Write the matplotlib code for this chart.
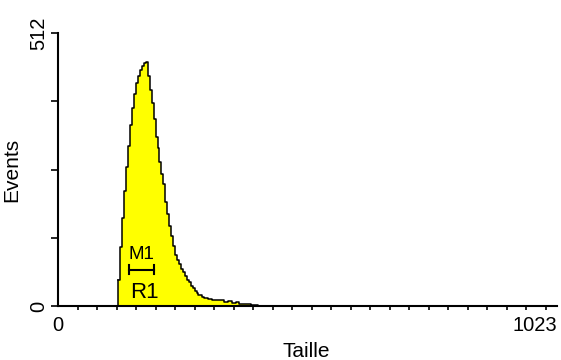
import numpy as np
import matplotlib
matplotlib.use("Agg")
import matplotlib.pyplot as plt

plt.rcParams['font.family'] = ['Liberation Sans', 'DejaVu Sans']

# histogram (channel, events)
channels = [124, 128, 132, 136, 140, 144, 148, 152, 156, 160, 164, 168, 172, 176, 180,
            184, 188, 192, 196, 200, 204, 208, 212, 216, 220, 224, 228, 232, 236, 240,
            244, 248, 252, 256, 260, 264, 268, 272, 276, 280, 284, 288, 292, 296, 300,
            308, 316, 324, 332, 340, 348, 356, 364, 372, 380, 388, 396, 404, 410]
events = [48, 110, 165, 215, 260, 300, 340, 372, 398, 418, 432, 442, 450, 455, 458,
          432, 405, 380, 350, 318, 296, 270, 248, 228, 196, 172, 150, 132, 112, 95,
          86, 78, 70, 64, 56, 48, 45, 38, 34, 28, 24, 20, 20, 17, 15,
          14, 12, 11, 12, 8, 9, 6, 7, 4, 4, 3, 2, 2, 0]

x_max = 1023
y_max = 512
y_ticks = [0, 128, 256, 384, 512]

fig = plt.figure(figsize=(5.61, 3.6), dpi=100)
ax = fig.add_axes([0.1034, 0.15, 0.8895, 0.758])

ax.fill_between(channels, events, step='post', color='#ffff00', lw=0)
ax.step(channels, events, where='post', color='black', lw=1.1)
ax.plot([channels[0], channels[0]], [0, events[0]], color='black', lw=1.1)

ax.set_xlim(0, x_max)
ax.set_ylim(0, y_max)

for s in ['top', 'right']:
    ax.spines[s].set_visible(False)
for s in ['left', 'bottom']:
    ax.spines[s].set_linewidth(1.5)
    ax.spines[s].set_color('black')

ax.set_yticks(y_ticks)
ax.set_yticklabels(['0', '', '', '', '512'], rotation=90, va='center', fontsize=14.5)
ax.tick_params(axis='y', length=5, width=1.2, pad=2)

ax.set_xticks([0, x_max])
ax.set_xticklabels(['0', '1023'], fontsize=14.5)
ax.get_xticklabels()[1].set_ha('right')
ax.set_xticks(np.arange(40, x_max, 40), minor=True)
ax.tick_params(axis='x', which='major', length=0, pad=7)
ax.tick_params(axis='x', which='minor', length=3, width=1.2)

ax.set_ylabel('Events', fontsize=15, labelpad=6)
ax.set_xlabel('Taille', fontsize=15, va='center')
ax.xaxis.set_label_coords(0.497, -0.168)

# marker M1 / region R1
ax.text(172, 97, 'M1', fontsize=13.5, ha='center', va='center')
ax.plot([146, 197], [68, 68], color='black', lw=1.5)
ax.plot([146, 146], [60, 76], color='black', lw=1.5)
ax.plot([197, 197], [60, 76], color='black', lw=1.5)
ax.text(178, 26, 'R1', fontsize=16, ha='center', va='center')

fig.savefig('out.png', dpi=100)
